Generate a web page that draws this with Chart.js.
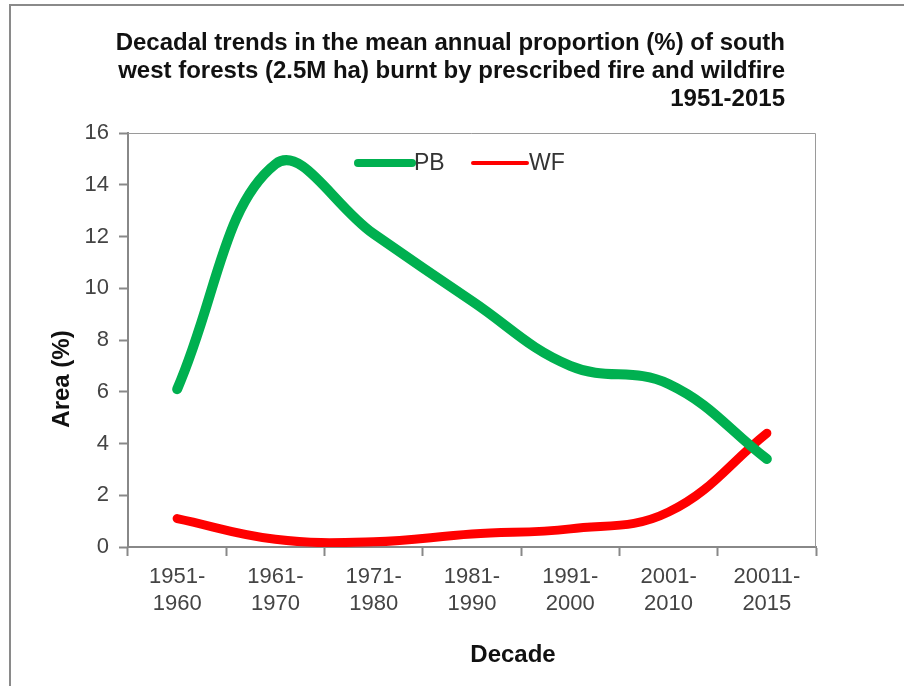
<!DOCTYPE html>
<html>
<head>
<meta charset="utf-8">
<script src="https://cdn.jsdelivr.net/npm/chart.js@4/dist/chart.umd.min.js"></script>
<style>
  body { margin: 0; background: #fff; }
  #frame { position: absolute; left: 9px; top: 4px; width: 900px; height: 700px; border: 2px solid #8a8a8a; }
  #wrap { position: absolute; left: 0; top: 0; width: 904px; height: 686px; }
</style>
</head>
<body>
<div id="frame"></div>
<div id="wrap"><canvas id="myChart" width="904" height="686"></canvas></div>
<script>
var decades = [['1951-', '1960'], ['1961-', '1970'], ['1971-', '1980'], ['1981-', '1990'],
               ['1991-', '2000'], ['2001-', '2010'], ['20011-', '2015']];
var pbValues = [6.1, 14.8, 12.1, 9.5, 7.0, 6.3, 3.4];
var wfValues = [1.1, 0.3, 0.2, 0.5, 0.7, 1.35, 4.4];
var yTicks = [0, 2, 4, 6, 8, 10, 12, 14, 16];
var titleLines = ['Decadal trends in the mean annual proportion (%) of south',
                  'west forests (2.5M ha) burnt by prescribed fire and wildfire',
                  '1951-2015'];

var FONT = '"Liberation Sans", Arial, sans-serif';

// title, axis titles, legend and plot box drawn by hand (Excel-ish placement)
var extraText = {
    id: 'extraText',
    afterDraw: function (chart) {
        var c = chart.ctx;
        var a = chart.chartArea;
        c.save();
        // plot area box (top + right)
        c.strokeStyle = '#9a9a9a';
        c.lineWidth = 1;
        c.beginPath();
        c.moveTo(a.left, a.top + 0.5);
        c.lineTo(a.right - 0.5, a.top + 0.5);
        c.lineTo(a.right - 0.5, a.bottom);
        c.stroke();

        // title
        c.fillStyle = '#111';
        c.font = 'bold 24px ' + FONT;
        c.textAlign = 'right';
        c.textBaseline = 'middle';
        titleLines.forEach(function (t, i) {
            c.fillText(t, 785, 43 + i * 28);
        });

        // axis titles
        c.textAlign = 'center';
        c.font = 'bold 24px ' + FONT;
        c.fillText('Decade', 513, 655);
        c.save();
        c.translate(62, 379);
        c.rotate(-Math.PI / 2);
        c.fillText('Area (%)', 0, 0);
        c.restore();

        // legend
        c.font = '23px ' + FONT;
        c.textAlign = 'left';
        var x = 358;
        chart.data.datasets.forEach(function (ds, i) {
            c.strokeStyle = ds.borderColor;
            c.lineWidth = i === 0 ? 8 : 4;
            c.lineCap = 'round';
            c.beginPath();
            c.moveTo(x, 163);
            c.lineTo(x + 54, 163);
            c.stroke();
            c.fillStyle = '#333';
            c.fillText(ds.label, x + 56, 164);
            x += 115;
        });
        c.restore();
    }
};

var ctx = document.getElementById('myChart').getContext('2d');
var myChart = new Chart(ctx, {
    type: 'line',
    data: {
        labels: decades,
        datasets: [
            {
                label: 'PB',
                data: pbValues,
                borderColor: '#00b050',
                borderWidth: 10,
                borderCapStyle: 'round',
                pointRadius: 0,
                tension: 0.4
            },
            {
                label: 'WF',
                data: wfValues,
                borderColor: '#ff0000',
                borderWidth: 9,
                borderCapStyle: 'round',
                pointRadius: 0,
                tension: 0.4
            }
        ]
    },
    options: {
        responsive: false,
        animation: false,
        layout: { padding: { left: 30, right: 88, top: 133, bottom: 0 } },
        plugins: {
            legend: { display: false },
            title: { display: false },
            tooltip: { enabled: false }
        },
        scales: {
            x: {
                offset: true,
                grid: { offset: true, drawOnChartArea: false, tickLength: 9, color: '#888', tickWidth: 2 },
                border: { color: '#888', width: 2 },
                ticks: { color: '#444', font: { family: FONT, size: 22, lineHeight: 1.25 }, padding: 7, maxRotation: 0 },
                afterFit: function (s) { s.height = 139; }
            },
            y: {
                min: 0,
                max: 16,
                afterBuildTicks: function (s) { s.ticks = yTicks.map(function (v) { return { value: v }; }); },
                grid: { drawOnChartArea: false, tickLength: 9, color: '#888', tickWidth: 2 },
                border: { color: '#888', width: 2 },
                ticks: { color: '#444', font: { family: FONT, size: 22 }, padding: 10 },
                afterFit: function (s) { s.width = 98; }
            }
        }
    },
    plugins: [extraText]
});
</script>
</body>
</html>
